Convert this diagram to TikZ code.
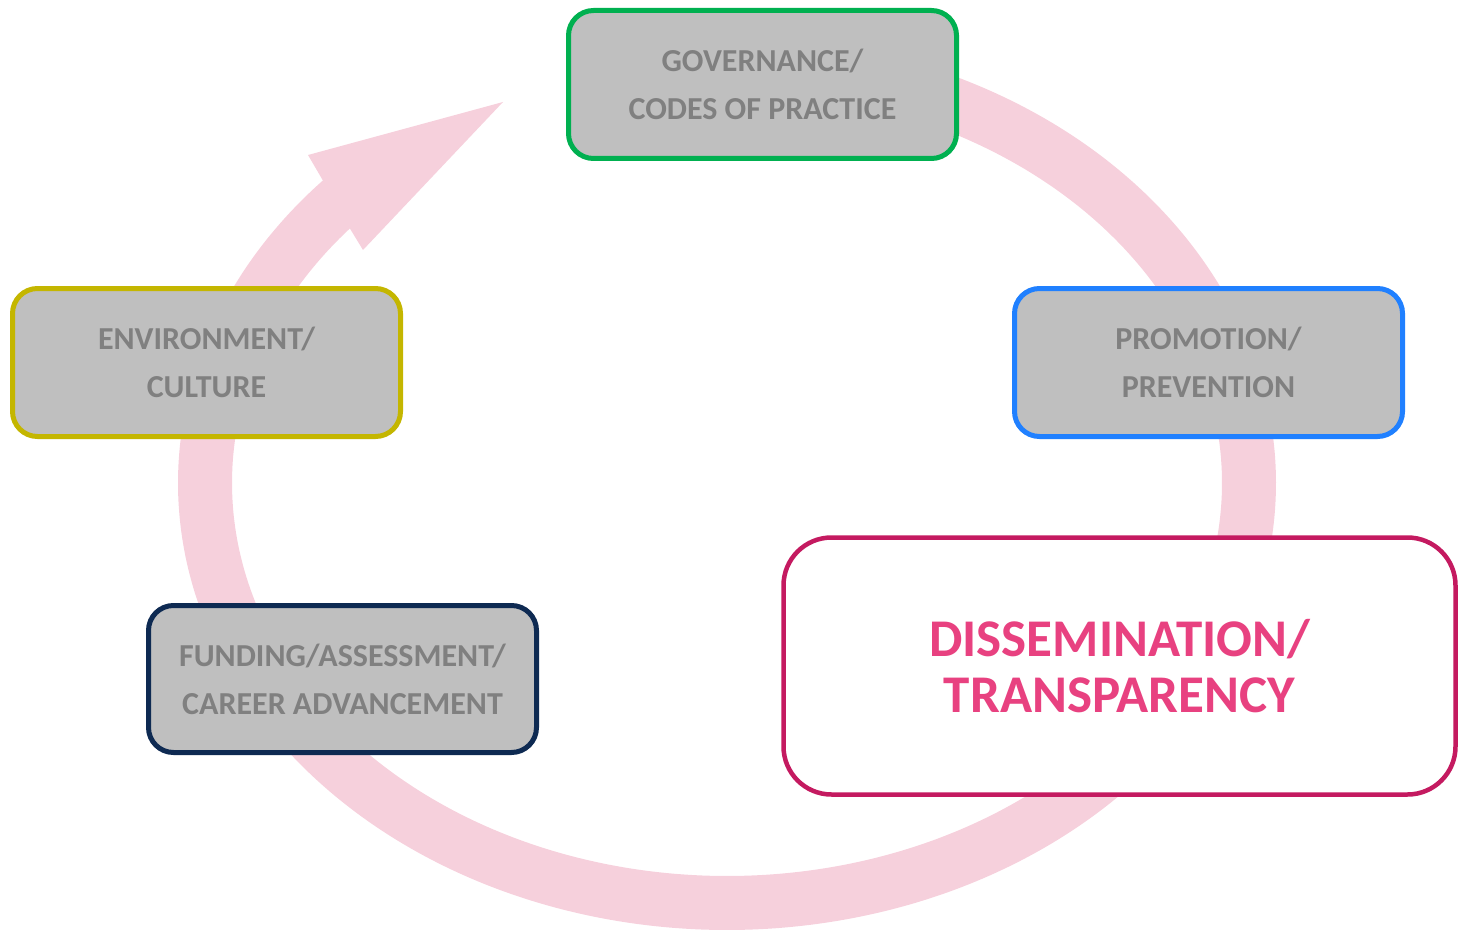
\documentclass[tikz,border=0pt]{standalone}
\usepackage{fontspec}
\setmainfont{Carlito}
\definecolor{ringpink}{RGB}{246,208,220}
\definecolor{boxgray}{RGB}{191,191,191}
\definecolor{txtgray}{RGB}{128,128,128}
\definecolor{bgreen}{RGB}{0,176,80}
\definecolor{bolive}{RGB}{196,182,0}
\definecolor{bblue}{RGB}{32,128,255}
\definecolor{bnavy}{RGB}{14,42,82}
\definecolor{bmagenta}{RGB}{196,26,96}
\definecolor{tpink}{RGB}{232,65,128}
\begin{document}
\begin{tikzpicture}[x=1pt,y=-1pt,
  graybox/.style={draw, line width=5pt, fill=boxgray, rounded corners=25pt,
    minimum width=388pt, minimum height=148pt, align=center, inner sep=0pt,
    text=txtgray, font=\fontsize{32}{48}\selectfont\bfseries},
  mainbox/.style={draw=bmagenta, line width=4.5pt, fill=white, rounded corners=48pt,
    minimum width=672pt, minimum height=257pt, align=center, inner sep=0pt,
    text=tpink, font=\fontsize{53}{56}\selectfont\bfseries}]
\useasboundingbox (0,0) rectangle (1458,933);
% ring with arrowhead
\fill[ringpink]
  plot[domain=-100:222.6, samples=240, smooth] ({727+549*cos(\x)},{483+447*sin(\x)})
  -- (308,155) -- (503,102) -- (363,250) -- (349,227)
  -- plot[domain=220.5:-100, samples=240, smooth] ({727+495*cos(\x)},{483+393*sin(\x)})
  -- cycle;
% boxes
\node[graybox, draw=bgreen] (gov) at (762.5,84.5) {GOVERNANCE/\\CODES OF PRACTICE};
\node[graybox, draw=bolive] (env) at (206.5,362.5) {ENVIRONMENT/\\CULTURE};
\node[graybox, draw=bblue] (prom) at (1208.5,362.5) {PROMOTION/\\PREVENTION};
\node[graybox, draw=bnavy, minimum height=147pt] (fund) at (342.5,679) {FUNDING/ASSESSMENT/\\CAREER ADVANCEMENT};
\node[mainbox] (diss) at (1119.5,666) {DISSEMINATION/\\TRANSPARENCY};
\end{tikzpicture}
\end{document}
